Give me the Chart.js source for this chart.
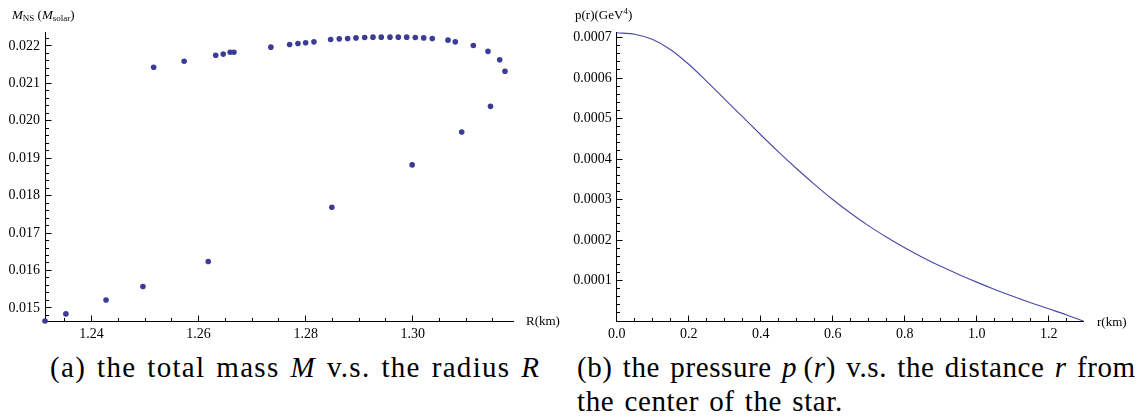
<!DOCTYPE html>
<html>
<head>
<meta charset="utf-8">
<script src="https://cdn.jsdelivr.net/npm/chart.js@4.4.0/dist/chart.umd.min.js"></script>
<style>
  body { margin: 0; background: #fff; width: 1142px; height: 417px; position: relative; overflow: hidden; font-family: 'Liberation Serif', 'Times New Roman', serif; color: #000; }
  .box { position: absolute; top: 0; }
  #boxA { left: 0; width: 545px; height: 345px; }
  #boxB { left: 560px; width: 582px; height: 345px; }
  .lbl { position: absolute; font-family: 'Liberation Serif', serif; font-size: 13px; line-height: 16px; white-space: nowrap; }
  .sm { font-size: 9px; position: relative; }
  .cap { position: absolute; font-family: 'Liberation Serif', serif; font-size: 29px; line-height: 34px; word-spacing: 2.4px; letter-spacing: 0.6px; white-space: nowrap; }
</style>
</head>
<body>
<div class="box" id="boxA"><canvas id="massChart" width="545" height="345"></canvas></div>
<div class="box" id="boxB"><canvas id="pressureChart" width="582" height="345"></canvas></div>

<div class="lbl" style="left:12px; top:7px;"><i>M</i><span class="sm" style="top:2px;">NS</span> (<i>M</i><span class="sm" style="top:2px;">solar</span>)</div>
<div class="lbl" style="left:526px; top:313px;">R(km)</div>
<div class="lbl" style="left:575px; top:7px;">p(r)(GeV<span class="sm" style="top:-5px;">4</span>)</div>
<div class="lbl" style="left:1097px; top:314px;">r(km)</div>

<div class="cap" style="left:50px; top:350px; letter-spacing:1.3px;">(a) the total mass <i>M</i> v.s. the radius <i>R</i></div>
<div class="cap" style="left:577px; top:350px;">(b) the pressure <i>p</i>&#8201;(<i>r</i>) v.s. the distance <i>r</i> from<br>the center of the star.</div>

<script>
// (a) total mass vs radius, one point per star
const radiusR = [1.2313, 1.2352, 1.2427, 1.2496, 1.2618, 1.2849, 1.2999, 1.30916, 1.31454, 1.31725,
  1.31626, 1.31407, 1.31133, 1.30796, 1.3066, 1.30366, 1.30206, 1.30049, 1.29888, 1.29731,
  1.29576, 1.29413, 1.29258, 1.29103, 1.2894, 1.28785, 1.28628, 1.28467, 1.28155, 1.28,
  1.27856, 1.27701, 1.2735, 1.2666, 1.2659, 1.2646, 1.2632, 1.2573, 1.2516];
const massM = [0.01465, 0.01484, 0.01521, 0.01557, 0.01624, 0.01769, 0.01882, 0.019699, 0.020384, 0.02132,
  0.021629, 0.021853, 0.02201, 0.022107, 0.022152, 0.022197, 0.022213, 0.022224, 0.022232, 0.022232,
  0.022232, 0.022232, 0.022232, 0.022224, 0.022213, 0.022197, 0.022187, 0.022171, 0.022107, 0.02208,
  0.022064, 0.022037, 0.021965, 0.02183, 0.02183, 0.02178, 0.02175, 0.02159, 0.02143];

// (b) pressure profile p(r) in GeV^4
const rKm = [0, 0.05, 0.1, 0.15, 0.2, 0.25, 0.3, 0.35, 0.4, 0.45, 0.5, 0.55, 0.6, 0.65,
  0.7, 0.75, 0.8, 0.85, 0.9, 0.95, 1.0, 1.05, 1.1, 1.15, 1.2, 1.25, 1.296];
const pressure = [0.000712, 0.000708, 0.000695, 0.000670, 0.000634, 0.000592, 0.000548, 0.000504,
  0.000460, 0.000417, 0.000376, 0.000337, 0.000300, 0.000266, 0.000235, 0.000207, 0.000181,
  0.000157, 0.000135, 0.000115, 0.000096, 0.000078, 0.000061, 0.000045, 0.000030, 0.000015, 0];

Chart.defaults.font.family = "'Liberation Serif', 'Times New Roman', serif";
const fontTicks = { family: "'Liberation Serif', 'Times New Roman', serif", size: 14 };

function alignPx(p) {
  return Math.round(p - 0.5) + 0.5;
}

// Mathematica style: tick marks point into the plot
const inwardTicks = {
  id: 'inwardTicks',
  afterDraw(chart, args, opts) {
    const ctx = chart.ctx;
    const xs = chart.scales.x;
    const ys = chart.scales.y;
    const baseY = alignPx(ys.bottom);
    const baseX = alignPx(xs.left);
    ctx.save();
    ctx.strokeStyle = '#000';
    ctx.lineWidth = 1;
    ctx.beginPath();
    let n0 = Math.ceil(xs.min / opts.x[0] - 1e-6);
    let n1 = Math.floor(xs.max / opts.x[0] + 1e-6);
    for (let n = n0; n <= n1; n++) {
      const len = n % opts.x[1] === 0 ? 6 : 3.5;
      const p = alignPx(xs.getPixelForValue(n * opts.x[0]));
      ctx.moveTo(p, baseY);
      ctx.lineTo(p, baseY - len);
    }
    n0 = Math.ceil(ys.min / opts.y[0] - 1e-6);
    n1 = Math.floor(ys.max / opts.y[0] + 1e-6);
    for (let n = n0; n <= n1; n++) {
      const len = n % opts.y[1] === 0 ? 6 : 3.5;
      const p = alignPx(ys.getPixelForValue(n * opts.y[0]));
      ctx.moveTo(baseX, p);
      ctx.lineTo(baseX + len, p);
    }
    ctx.stroke();
    ctx.restore();
  }
};

function axis(min, max, step, size, digits, hideZero) {
  return {
    type: 'linear',
    min: min,
    max: max,
    afterFit: s => {
      if (s.isHorizontal()) s.height = size; else s.width = size;
    },
    grid: { display: false, drawTicks: false },
    border: { display: true, color: '#000', width: 1 },
    ticks: {
      stepSize: step,
      includeBounds: false,
      autoSkip: false,
      maxRotation: 0,
      padding: 5,
      color: '#000',
      font: fontTicks,
      callback: v => (hideZero && v === 0) ? '' : v.toFixed(digits)
    }
  };
}

new Chart(document.getElementById('massChart'), {
  type: 'scatter',
  data: {
    datasets: [{
      data: radiusR.map((r, i) => ({ x: r, y: massM[i] })),
      pointRadius: 2.8,
      pointBorderWidth: 0,
      pointBackgroundColor: '#3c3c96',
      clip: false
    }]
  },
  options: {
    responsive: false,
    animation: false,
    layout: { padding: { top: 32, right: 31.7, left: 0, bottom: 0 } },
    plugins: {
      legend: { display: false },
      tooltip: { enabled: false },
      inwardTicks: { x: [0.005, 4], y: [0.0002, 5] }
    },
    scales: {
      x: axis(1.2313, 1.3188, 0.02, 24, 2, false),
      y: axis(0.01465, 0.02237, 0.001, 45, 3, false)
    }
  },
  plugins: [inwardTicks]
});

new Chart(document.getElementById('pressureChart'), {
  type: 'scatter',
  data: {
    datasets: [{
      data: rKm.map((r, i) => ({ x: r, y: pressure[i] })),
      showLine: true,
      pointRadius: 0,
      borderColor: '#4848a8',
      borderWidth: 1.1,
      cubicInterpolationMode: 'monotone',
      clip: false
    }]
  },
  options: {
    responsive: false,
    animation: false,
    layout: { padding: { top: 32.3, right: 58.7, left: 0, bottom: 0 } },
    plugins: {
      legend: { display: false },
      tooltip: { enabled: false },
      inwardTicks: { x: [0.05, 4], y: [0.00002, 5] }
    },
    scales: {
      x: axis(0, 1.296, 0.2, 24, 1, false),
      y: axis(0, 0.000713, 0.0001, 56.7, 4, true)
    }
  },
  plugins: [inwardTicks]
});
</script>
</body>
</html>
